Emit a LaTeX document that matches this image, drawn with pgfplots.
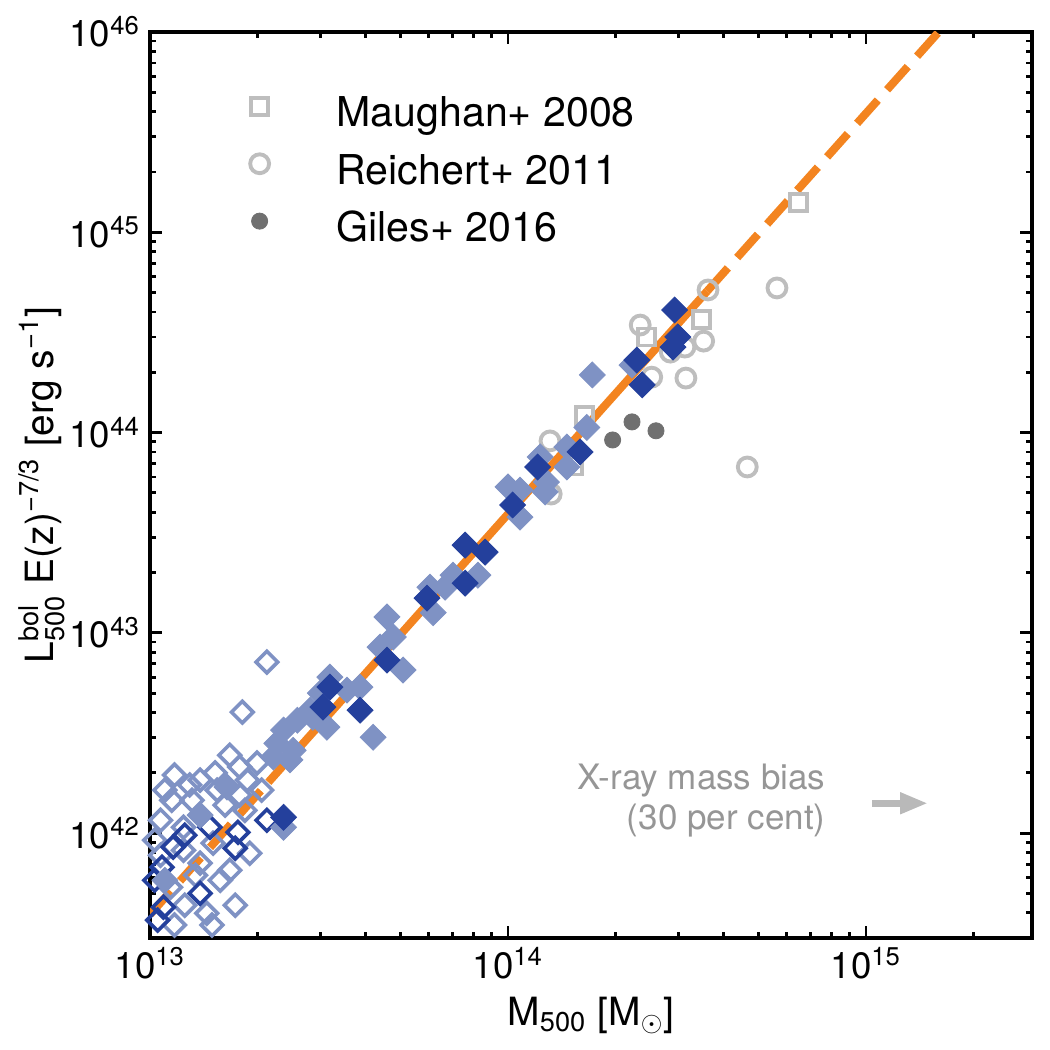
\documentclass[border=0pt]{standalone}
\usepackage{fontspec}
\setmainfont{TeX Gyre Heros}
\usepackage{amsmath}
\usepackage{pgfplots}
\usepackage{pgfplotstable}
\pgfplotsset{compat=1.18}
\usetikzlibrary{arrows.meta}

\definecolor{fitorange}{RGB}{243,132,32}
\definecolor{darkblue}{RGB}{36,64,156}
\definecolor{lightblue}{RGB}{127,146,196}
\definecolor{ltgray}{RGB}{190,190,190}
\definecolor{dkgray}{RGB}{112,112,112}
\definecolor{notegray}{RGB}{150,150,150}
\definecolor{arrowgray}{RGB}{185,185,185}

% single-mark legend symbol
\pgfplotsset{dotlegend/.style={legend image code/.code={%
  \path[draw=none, fill=none] (-8pt,-3pt) rectangle (8pt,10pt);
  \draw[##1] plot coordinates {(0pt,3.6pt)};}}}

% Comparison samples
\pgfplotstableread{
M L
6.46e14 1.40e45
3.48e14 3.65e44
2.43e14 3.00e44
1.64e14 1.22e44
1.52e14 6.81e43
}\maughan
\pgfplotstableread{
M L
3.62e14 5.15e44
5.64e14 5.27e44
3.52e14 2.86e44
3.12e14 2.67e44
3.14e14 1.87e44
4.66e14 6.73e43
2.34e14 3.44e44
2.84e14 2.52e44
2.52e14 1.89e44
1.31e14 9.08e43
1.32e14 4.93e43
}\reichert
\pgfplotstableread{
M L
1.96e14 9.18e43
2.22e14 1.13e44
2.59e14 1.02e44
}\giles

% Simulated clusters and groups
\pgfplotstableread{
M L
2.92e14 4.09e44
2.98e14 3.00e44
2.89e14 2.67e44
2.29e14 2.30e44
2.37e14 1.73e44
1.59e14 8.00e43
1.21e14 6.73e43
1.03e14 4.35e43
7.59e13 2.74e43
8.63e13 2.53e43
7.59e13 1.77e43
5.94e13 1.49e43
4.59e13 7.31e42
3.18e13 5.36e42
3.04e13 4.26e42
3.86e13 4.11e42
2.36e13 1.20e42
}\darkfilled
\pgfplotstableread{
M L
1.72e14 1.94e44
2.22e14 2.17e44
1.66e14 1.06e44
1.46e14 8.47e43
1.46e14 6.73e43
1.23e14 7.55e43
1.28e14 5.66e43
1.08e14 5.16e43
1.27e14 5.05e43
1.00e14 5.35e43
1.08e14 3.78e43
8.24e13 1.94e43
7.02e13 1.94e43
6.05e13 1.69e43
6.67e13 1.69e43
6.18e13 1.26e43
4.59e13 1.20e43
4.78e13 9.53e42
4.39e13 8.49e42
5.09e13 6.52e42
3.18e13 6.01e42
2.99e13 5.00e42
3.55e13 5.18e42
3.86e13 5.36e42
4.20e13 3.01e42
3.12e13 3.38e42
2.85e13 3.79e42
2.36e13 3.27e42
2.26e13 2.81e42
2.51e13 2.59e42
2.21e13 2.40e42
2.36e13 1.07e42
2.58e13 3.66e42
2.80e13 4.11e42
2.46e13 2.32e42
1.64e13 1.70e42
1.38e13 1.23e42
1.10e13 5.82e41
}\lightfilled
\pgfplotstableread{
M L
2.12e13 1.16e42
1.47e13 1.07e42
1.76e13 1.01e42
1.73e13 8.41e41
1.16e13 8.51e41
1.08e13 6.76e41
1.38e13 5.01e41
1.09e13 4.27e41
1.05e13 3.68e41
1.25e13 9.77e41
1.03e13 5.82e41
}\darkopen
\pgfplotstableread{
M L
2.12e13 7.15e42
1.81e13 4.02e42
1.67e13 2.45e42
1.52e13 2.00e42
1.78e13 2.14e42
1.99e13 2.24e42
1.87e13 1.84e42
1.15e13 1.46e42
1.31e13 1.46e42
1.54e13 1.64e42
1.90e13 7.94e41
1.50e13 8.91e41
1.24e13 8.22e41
1.38e13 7.08e41
1.14e13 5.37e41
1.44e13 3.98e41
1.49e13 3.48e41
1.24e13 1.07e42
1.57e13 5.82e41
1.07e13 1.16e42
1.17e13 1.95e42
1.38e13 1.84e42
1.03e13 9.23e41
1.25e13 4.37e41
1.78e13 1.55e42
2.05e13 1.64e42
1.10e13 1.64e42
1.29e13 1.74e42
1.62e13 1.38e42
1.84e13 1.30e42
1.07e13 7.76e41
1.34e13 6.17e41
1.67e13 6.53e41
1.17e13 3.48e41
1.73e13 4.37e41
}\lightopen

\begin{document}
\begin{tikzpicture}
\useasboundingbox (-54pt,-40.32pt) rectangle (324pt,337.68pt);
\begin{axis}[
  at={(0pt,0pt)}, anchor=south west,
  scale only axis, width=317.52pt, height=326.16pt,
  xmode=log, ymode=log,
  xmin=1e13, xmax=2.91e15, ymin=3e41, ymax=1e46,
  xtick={1e13,1e14,1e15},
  xticklabels={10\textsuperscript{13},10\textsuperscript{14},10\textsuperscript{15}},
  minor xtick={2e13,3e13,4e13,5e13,6e13,7e13,8e13,9e13,2e14,3e14,4e14,5e14,6e14,7e14,8e14,9e14,2e15},
  ytick={1e42,1e43,1e44,1e45,1e46},
  yticklabels={10\textsuperscript{42},10\textsuperscript{43},10\textsuperscript{44},10\textsuperscript{45},10\textsuperscript{46}},
  minor ytick={4e41,5e41,6e41,7e41,8e41,9e41,2e42,3e42,4e42,5e42,6e42,7e42,8e42,9e42,2e43,3e43,4e43,5e43,6e43,7e43,8e43,9e43,2e44,3e44,4e44,5e44,6e44,7e44,8e44,9e44,2e45,3e45,4e45,5e45,6e45,7e45,8e45,9e45},
  tick align=inside, xtick pos=both, ytick pos=both,
  major tick length=4.3pt, minor tick length=2.2pt,
  tick style={line width=1pt, black},
  axis line style={line width=1.4pt},
  tick label style={font=\fontsize{13.2}{15}\selectfont},
  label style={font=\fontsize{14}{17}\selectfont},
  xlabel={M$_{\text{500}}$ [M$_\odot$]},
  ylabel={L$^{\text{bol}}_{\text{500}}$ E(z)$^{\text{−7/3}}$ [erg s$^{\text{−1}}$]},
  ylabel style={at={(axis description cs:-0.1224,0.5)}, anchor=center},
  legend cell align=left,
  legend style={at={(axis description cs:0.0984,0.938)}, anchor=north west,
    draw=none, fill=none, inner sep=0pt, column sep=19.7pt, row sep=3.9pt,
    font=\fontsize{14.8}{17}\selectfont,
    nodes={inner sep=0pt, text height=10.5pt, text depth=3pt}},
]
% comparison samples (legend entries)
\addplot[only marks, mark=square, mark size=3.06pt, color=ltgray, line width=1.4pt, dotlegend]
  table[x=M, y=L] {\maughan};
\addlegendentry{Maughan+ 2008}
\addplot[only marks, mark=o, mark size=3.4pt, color=ltgray, line width=1.4pt, dotlegend]
  table[x=M, y=L] {\reichert};
\addlegendentry{Reichert+ 2011}
\addplot[only marks, mark=*, mark size=2.9pt, color=dkgray, line width=0.3pt, dotlegend]
  table[x=M, y=L] {\giles};
\addlegendentry{Giles+ 2016}

% simulated systems
\addplot[forget plot, only marks, mark=square, mark size=2.75pt, color=lightblue,
  mark options={rotate=45, line width=1.3pt}] table[x=M, y=L] {\lightopen};
\addplot[forget plot, only marks, mark=square, mark size=2.75pt, color=darkblue,
  mark options={rotate=45, line width=1.3pt}] table[x=M, y=L] {\darkopen};
\addplot[forget plot, only marks, mark=square*, mark size=3.3pt, color=lightblue,
  mark options={rotate=45, line width=0.3pt}] table[x=M, y=L] {\lightfilled};
\addplot[forget plot, only marks, mark=square*, mark size=3.3pt, color=darkblue,
  mark options={rotate=45, line width=0.3pt}] table[x=M, y=L] {\darkfilled};

% best-fit relation: solid over the fitted range, dashed outside it
\addplot[forget plot, fitorange, line width=2.9pt, dash pattern=on 11.2pt off 5pt]
  coordinates {(1e13,3.93e41) (2.14e13,1.795e42)};
\addplot[forget plot, fitorange, line width=2.9pt]
  coordinates {(2.14e13,1.795e42) (3.6e14,5.08e44)};
\addplot[forget plot, fitorange, line width=2.9pt, dash pattern=on 11.2pt off 5pt]
  coordinates {(3.6e14,5.08e44) (3e15,3.53e46)};

% mass-bias indicator
\node[anchor=east, align=right, inner sep=0pt, text=notegray, font=\fontsize{12.6}{14.4}\selectfont]
  at (axis cs:7.73e14,1.46e42) {X-ray mass bias\\(30 per cent)};
\draw[arrowgray, line width=2.5pt, -{Triangle[width=7.2pt,length=10pt]}]
  (axis cs:1.04e15,1.41e42) -- (axis cs:1.49e15,1.41e42);
\end{axis}
\end{tikzpicture}
\end{document}
